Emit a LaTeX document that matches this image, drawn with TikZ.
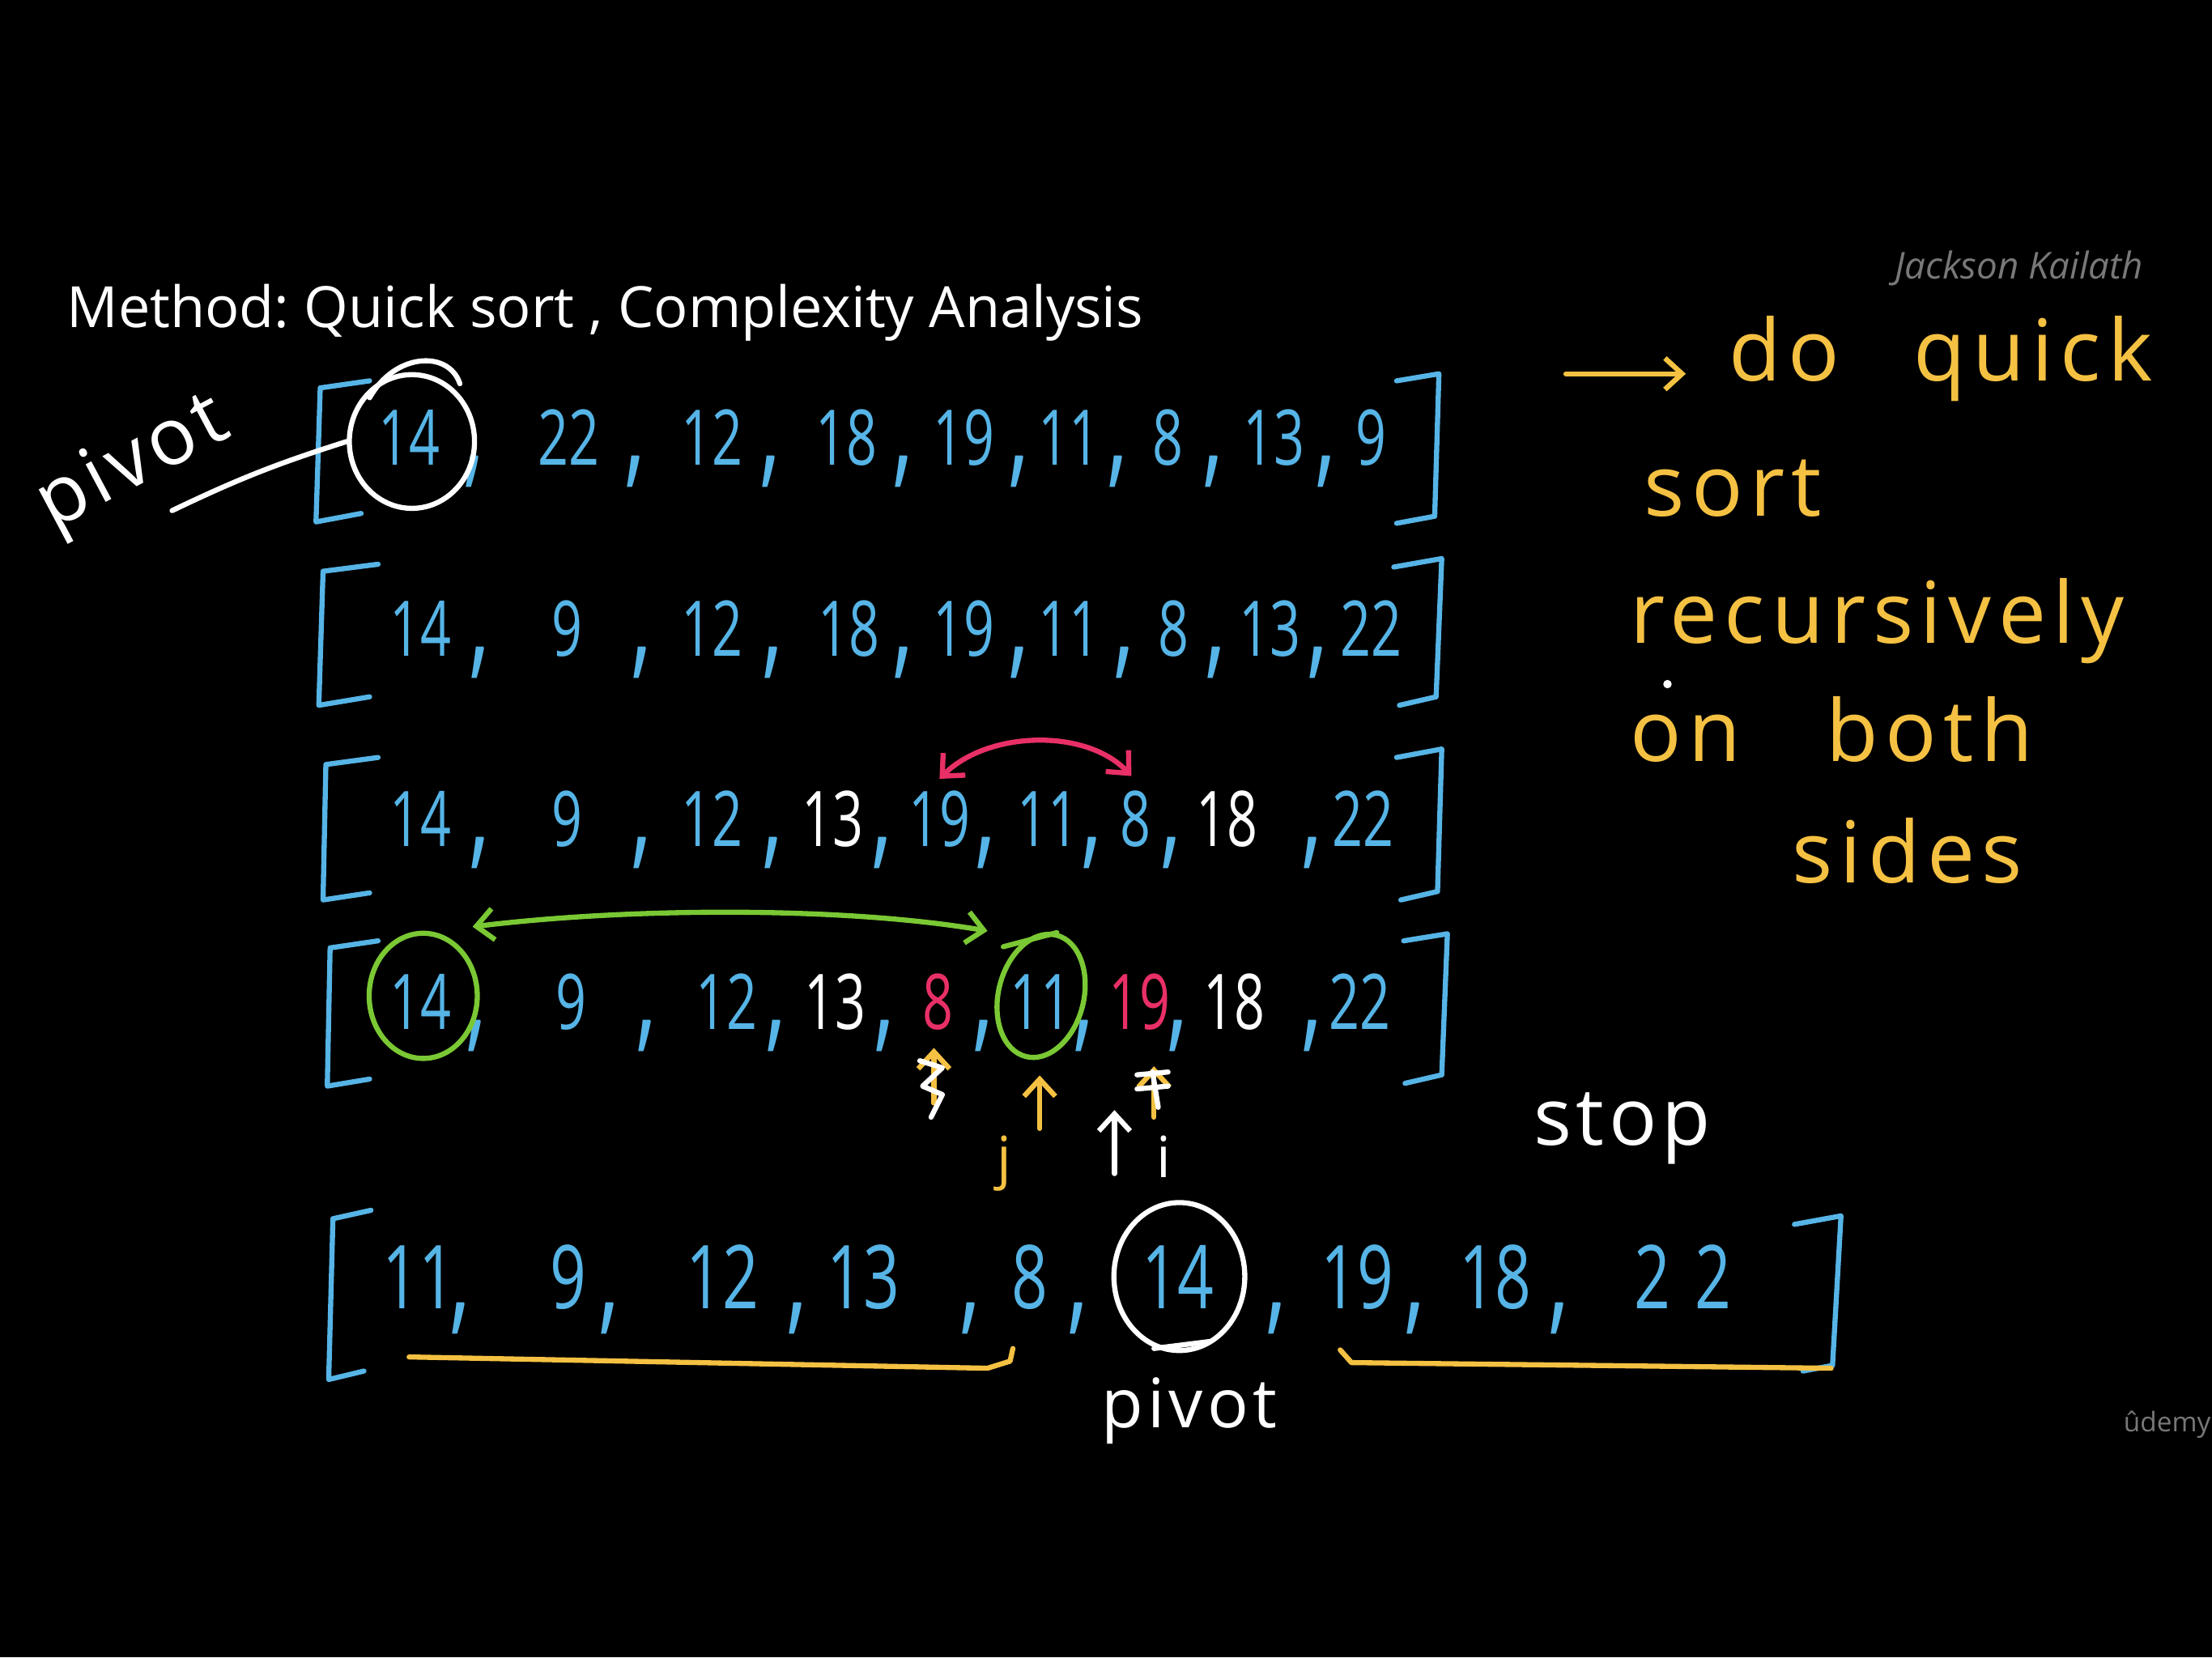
\documentclass[tikz,border=0pt]{standalone}
\usepackage{fontspec}
\setmainfont{Open Sans}
\frenchspacing
\usetikzlibrary{arrows.meta,shapes.geometric}
\definecolor{qblue}{RGB}{86,180,230}
\definecolor{qyel}{RGB}{245,193,66}
\definecolor{qred}{RGB}{232,48,102}
\definecolor{qgreen}{RGB}{122,200,52}
\definecolor{qgray}{RGB}{120,120,120}
\begin{document}
\begin{tikzpicture}[x=0.017423cm,y=-0.017423cm,
 pen/.style={line width=1.8pt,line cap=round,line join=round},
 barb/.style={-{Straight Barb[length=6pt,width=11pt]}},
 barbs/.style={{Straight Barb[length=6pt,width=11pt]}-{Straight Barb[length=6pt,width=11pt]}},
 num/.style={anchor=base,inner sep=0pt,xscale=0.7,font=\fontsize{27}{27}\selectfont},
 bignum/.style={anchor=base,inner sep=0pt,xscale=0.72,font=\fontsize{31}{31}\selectfont},
 commastyle/.style={anchor=base,inner sep=0pt,yscale=1.5,font=\fontsize{30}{30}\selectfont},
 hand/.style={anchor=base,inner sep=0pt,text=qyel,font=\fontsize{30}{30}\selectfont\addfontfeature{LetterSpace=8}},
 whand/.style={anchor=base,inner sep=0pt,text=white,font=\fontsize{28}{28}\selectfont\addfontfeature{LetterSpace=6}},
 ring/.style={ellipse,draw,pen,inner sep=0pt,fill=none},
]
\fill[black] (0,0) rectangle (1568,1175);
\useasboundingbox (0,0) rectangle (1568,1175);

% title and watermarks
\node[anchor=base west,inner sep=0pt,text=white,font=\fontsize{20}{20}\selectfont] (title) at (47,232) {Method: Quick sort , Complexity Analysis};
\node[anchor=base west,inner sep=0pt,text=qgray,font=\itshape\fontsize{13}{13}\selectfont] (wm) at (1343,198) {Jackson Kailath};
\node[anchor=base west,inner sep=0pt,text=qgray,font=\fontsize{9.5}{9.5}\selectfont] (ud) at (1505,1015) {ûdemy};

% ---------- row 1
\draw[pen,qblue] (262,270) -- (227,275) -- (224,370) -- (256,364);
\draw[pen,qblue] (990,270) -- (1020,265) -- (1017,366) -- (990,371);
\foreach \x/\t/\c [count=\i] in {290/14/qblue,403/22/qblue,505/12/qblue,600/18/qblue,683/19/qblue,758/11/qblue,828/8/qblue,903/13/qblue,972/9/qblue}
  \node[num,text=\c] (r1n\i) at (\x,330) {\t};
\foreach \x [count=\i] in {336,450,546,640,722,792,860,940}
  \node[commastyle,text=qblue] (r1c\i) at (\x,334) {,};
\node[ring,white,minimum width=44pt,minimum height=47pt] (c1) at (292,313) {};
\draw[pen,white] (262,282) .. controls (280,250) and (318,248) .. (326,272);
\node[whand,anchor=center,rotate=28] (pv1) at (95,330) {pivot};
\coordinate (pl) at (122,362);
\draw[pen,white] (pl) to[bend left=4] (c1.west);

% ---------- row 2
\draw[pen,qblue] (268,400) -- (229,405) -- (226,500) -- (262,494);
\draw[pen,qblue] (988,402) -- (1022,396) -- (1018,494) -- (992,500);
\foreach \x/\t/\c [count=\i] in {298/14/qblue,402/9/qblue,505/12/qblue,602/18/qblue,683/19/qblue,758/11/qblue,832/8/qblue,900/13/qblue,972/22/qblue}
  \node[num,text=\c] (r2n\i) at (\x,465) {\t};
\foreach \x [count=\i] in {340,455,548,640,722,797,862,934}
  \node[commastyle,text=qblue] (r2c\i) at (\x,469) {,};

% ---------- row 3
\draw[pen,qblue] (268,537) -- (231,542) -- (229,638) -- (262,633);
\draw[pen,qblue] (990,537) -- (1022,531) -- (1019,632) -- (993,638);
\foreach \x/\t/\c [count=\i] in {298/14/qblue,402/9/qblue,505/12/qblue,590/13/white,666/19/qblue,743/11/qblue,805/8/qblue,870/18/white,966/22/qblue}
  \node[num,text=\c] (r3n\i) at (\x,600) {\t};
\foreach \x [count=\i] in {340,455,548,625,699,774,830,930}
  \node[commastyle,text=qblue] (r3c\i) at (\x,604) {,};
\draw[pen,qred,barbs] ([shift={(0,-8)}]r3n5.north) .. controls (700,518) and (770,516) .. ([shift={(-3,-10)}]r3n7.north);

% ---------- row 4
\draw[pen,qblue] (268,667) -- (234,672) -- (232,770) -- (262,765);
\draw[pen,qblue] (995,667) -- (1026,662) -- (1022,762) -- (996,768);
\foreach \x/\t/\c [count=\i] in {298/14/qblue,405/9/qblue,515/12/qblue,592/13/white,665/8/qred,738/11/qblue,808/19/qred,875/18/white,964/22/qblue}
  \node[num,text=\c] (r4n\i) at (\x,730) {\t};
\foreach \x [count=\i] in {338,458,550,627,697,768,835,930}
  \node[commastyle,text=qblue] (r4c\i) at (\x,734) {,};
\node[ring,qgreen,minimum width=38pt,minimum height=44pt] (g14) at (300,706) {};
\node[ring,qgreen,minimum width=30pt,minimum height=44pt,rotate=-14] (g11) at (738,706) {};
\draw[pen,qgreen] (g11.north) -- ++(-38,10);
\coordinate (ga) at (335,657);
\coordinate (gb) at (700,660);
\draw[pen,qgreen,barbs] (ga) .. controls (450,643) and (600,643) .. (gb);

% pointers under row 4
\coordinate (pa) at (662,782);
\draw[pen,qyel,barb] (pa) -- ([shift={(-3,12)}]r4n5.south);
\draw[pen,white] (652,752) -- (668,757) -- (654,770) -- (668,776) -- (660,792);
\coordinate (pj) at (737,800);
\draw[pen,qyel,barb] (pj) -- ([shift={(-1,32)}]r4n6.south);
\node[anchor=base,inner sep=0pt,text=qyel,font=\fontsize{20}{20}\selectfont] (jl) at (712,835) {j};
\coordinate (pk) at (818,792);
\draw[pen,qyel,barb] (pk) -- ([shift={(10,25)}]r4n7.south);
\draw[pen,white] (806,762) -- (828,760) (806,772) -- (828,770) (817,760) -- (821,785);
\coordinate (pi1) at (790,832);
\coordinate (pi2) at (790,787);
\draw[pen,white,barb] (pi1) -- (pi2);
\node[anchor=base,inner sep=0pt,text=white,font=\fontsize{20}{20}\selectfont] (il) at (825,835) {i};
\node[whand] (stop) at (1150,812) {stop};

% ---------- row 5
\draw[pen,qblue] (263,858) -- (236,864) -- (233,978) -- (258,972);
\draw[pen,qblue] (1272,868) -- (1305,862) -- (1299,968) -- (1278,972);
\foreach \x/\t/\c [count=\i] in {297/11/qblue,403/9/qblue,512/12/qblue,612/13/qblue,730/8/qblue,835/14/qblue,962/19/qblue,1060/18/qblue,1193/2\hspace{12pt}2/qblue}
  \node[bignum,text=\c] (r5n\i) at (\x,928) {\t};
\foreach \x [count=\i] in {326,432,565,688,764,905,1003,1105}
  \node[commastyle,text=qblue] (r5c\i) at (\x,934) {,};
\node[ring,white,minimum width=46pt,minimum height=52pt] (c5) at (836,905) {};
\draw[pen,white] (818,956) -- (858,951);
\draw[pen,qyel] (290,962) -- (700,970) -- (716,965) -- (718,956);
\draw[pen,qyel] (950,957) -- (958,966) -- (1298,970);
\node[whand,font=\fontsize{24}{24}\selectfont\addfontfeature{LetterSpace=6}] (pv5) at (843,1012) {pivot};

% ---------- right notes
\coordinate (na) at (1110,265);
\coordinate (nb) at (1195,265);
\draw[pen,qyel,barb] (na) -- (nb);
\node[hand,anchor=base west] (t1) at (1225,270) {do\hspace{26pt}quick};
\node[hand,anchor=base west] (t2) at (1165,366) {sort};
\node[hand,anchor=base west] (t3) at (1155,456) {recursively};
\node[hand,anchor=base west] (t4) at (1155,540) {on\hspace{30pt}both};
\node[hand,anchor=base west] (t5) at (1270,626) {sides};
\fill[white] (1182,485) circle[radius=3];
\end{tikzpicture}
\end{document}
